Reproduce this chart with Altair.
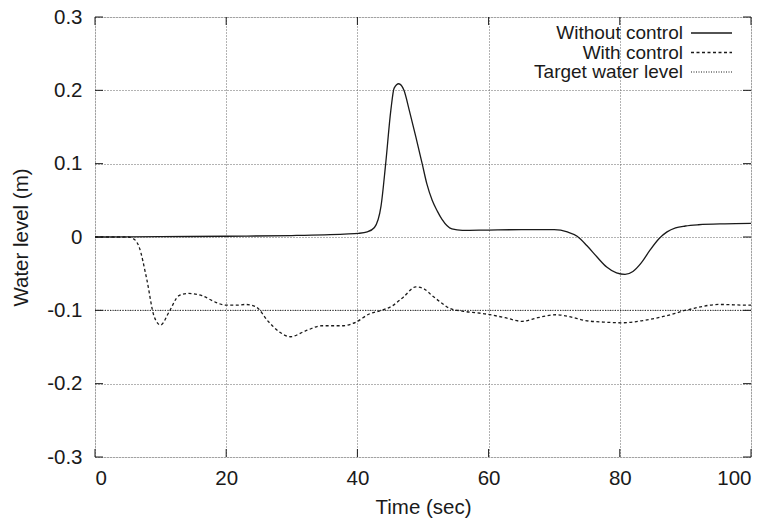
import altair as alt
import pandas as pd

# ---- data ----
t_without = [0, 10, 20, 30, 38, 40.2, 41.5, 42.6, 43.6, 44.3, 45.1, 45.6, 46.3, 47.1, 47.9,
             48.9, 49.9, 50.6, 51.4, 52.2, 52.9, 54.4, 56, 60, 65, 70, 72, 73.5, 75,
             76.5, 78, 79.5, 80.8, 82, 83.3, 84.6, 86, 87.2, 88.5, 90, 92, 96, 100]
v_without = [0, 0.0005, 0.001, 0.002, 0.004, 0.005, 0.007, 0.013, 0.042, 0.099, 0.173, 0.203,
             0.209, 0.2, 0.173, 0.137, 0.099, 0.072, 0.05, 0.035, 0.024, 0.011, 0.009,
             0.0095, 0.01, 0.01, 0.007, 0.001, -0.012, -0.027, -0.041, -0.049, -0.051,
             -0.047, -0.035, -0.018, -0.002, 0.007, 0.0125, 0.015, 0.0167, 0.018, 0.0185]

t_with = [0, 5, 5.8, 6.7, 7.9, 9, 10, 11.3, 12.8, 14.3, 16.3, 18.4, 19.9, 21.5, 23, 24.5, 26.5,
          28.2, 29.8, 32.1, 34.6, 37.7, 39.8, 41.8, 43.3, 45.3, 47, 48.9, 50.2, 51.4, 52.7, 54,
          56, 59.6, 62.5, 65.1, 67.5, 70.3, 72.5, 74.8, 77.5, 80.3, 83.5, 86.4, 90.5, 95.1, 99.7, 100]
v_with = [0, 0, -0.002, -0.013, -0.058, -0.108, -0.12, -0.102, -0.08, -0.077, -0.08, -0.089,
          -0.093, -0.093, -0.092, -0.095, -0.116, -0.13, -0.136, -0.128, -0.121, -0.121, -0.116,
          -0.105, -0.101, -0.094, -0.082, -0.068, -0.071, -0.08, -0.089, -0.097, -0.101, -0.105,
          -0.11, -0.115, -0.11, -0.106, -0.109, -0.114, -0.116, -0.117, -0.114, -0.109, -0.099,
          -0.092, -0.093, -0.093]

target_level = [-0.1]
x_ticks = [0, 20, 40, 60, 80, 100]
y_ticks = [-0.3, -0.2, -0.1, 0, 0.1, 0.2, 0.3]
legend_labels = ["Without control", "With control", "Target water level"]

# ---- layout / style ----
W, H = 656, 440
FONT = "Liberation Sans"
INK = "#1a1a1a"
TICK = 8
FS = 20.5

xs = alt.Scale(domain=[0, 100], nice=False, zero=False)
ys = alt.Scale(domain=[-0.3, 0.3], nice=False, zero=False)

df_without = pd.DataFrame({"t": t_without, "v": v_without})
df_with = pd.DataFrame({"t": t_with, "v": v_with})
df_target = pd.DataFrame({"v": target_level})
df_xt = pd.DataFrame({"t": x_ticks})
df_yt = pd.DataFrame({"v": y_ticks})

ylabel = ("datum.value == 0 ? '0' : (datum.value < 0 ? '-' + format(-datum.value, '.1f')"
          " : format(datum.value, '.1f'))")

x_axis = alt.Axis(values=x_ticks, title="Time (sec)", grid=True, gridDash=[1, 2],
                  gridColor="#666", gridWidth=1, ticks=False, domain=False,
                  labelFontSize=FS, labelPadding=11, labelFont=FONT, labelColor=INK,
                  titleFont=FONT, titleFontSize=FS, titleFontWeight="normal",
                  titleColor=INK, titlePadding=9)
y_axis = alt.Axis(values=y_ticks, title="Water level (m)", grid=True, gridDash=[1, 2],
                  gridColor="#666", gridWidth=1, ticks=False, domain=False,
                  labelExpr=ylabel, labelFontSize=FS, labelPadding=13, labelFont=FONT,
                  labelColor=INK, titleFont=FONT, titleFontSize=FS,
                  titleFontWeight="normal", titleColor=INK, titlePadding=15)

base_axes = alt.Chart(df_xt).mark_point(opacity=0).encode(
    x=alt.X("t:Q", scale=xs, axis=x_axis),
    y=alt.Y("v:Q", scale=ys, axis=y_axis),
).transform_calculate(v="0")

line_without = alt.Chart(df_without).mark_line(
    color=INK, strokeWidth=1.3, interpolate="monotone").encode(
    x=alt.X("t:Q", scale=xs), y=alt.Y("v:Q", scale=ys))

line_with = alt.Chart(df_with).mark_line(
    color=INK, strokeWidth=1.3, strokeDash=[3, 2.5], interpolate="monotone").encode(
    x=alt.X("t:Q", scale=xs), y=alt.Y("v:Q", scale=ys))

target = alt.Chart(df_target).mark_rule(
    color=INK, strokeWidth=1, strokeDash=[1, 1.5]).encode(
    y=alt.Y("v:Q", scale=ys))

# inward ticks on all four sides
ticks_bottom = alt.Chart(df_xt).mark_rule(color=INK).encode(
    x=alt.X("t:Q", scale=xs), y=alt.value(H - TICK), y2=alt.value(H))
ticks_top = alt.Chart(df_xt).mark_rule(color=INK).encode(
    x=alt.X("t:Q", scale=xs), y=alt.value(0), y2=alt.value(TICK))
ticks_left = alt.Chart(df_yt).mark_rule(color=INK).encode(
    y=alt.Y("v:Q", scale=ys), x=alt.value(0), x2=alt.value(TICK))
ticks_right = alt.Chart(df_yt).mark_rule(color=INK).encode(
    y=alt.Y("v:Q", scale=ys), x=alt.value(W - TICK), x2=alt.value(W))

# legend (text right-aligned, sample on the right)
dashes = [None, [3, 2.5], [1, 1.5]]
legend_layers = []
for i, lab in enumerate(legend_labels):
    yy = 16 + i * 19.5
    ldf = pd.DataFrame({"label": [lab]})
    legend_layers.append(
        alt.Chart(ldf).mark_text(align="right", baseline="middle", font=FONT,
                                 fontSize=19, color=INK).encode(
            text="label:N", x=alt.value(588), y=alt.value(yy)))
    rule_kwargs = dict(color=INK, strokeWidth=1.3 if i < 2 else 1)
    if dashes[i] is not None:
        rule_kwargs["strokeDash"] = dashes[i]
    legend_layers.append(
        alt.Chart(ldf).mark_rule(**rule_kwargs).encode(
            x=alt.value(596), x2=alt.value(637), y=alt.value(yy)))

chart = alt.layer(
    base_axes, target, line_without, line_with,
    ticks_bottom, ticks_top, ticks_left, ticks_right, *legend_layers
).properties(
    width=W, height=H,
    autosize=alt.AutoSizeParams(type="none"),
    padding={"left": 95, "top": 17, "right": 23, "bottom": 71},
).configure_view(
    stroke=INK, strokeWidth=1
).configure(background="white")

chart.save("out.html", embed_options={"renderer": "svg", "actions": False})
